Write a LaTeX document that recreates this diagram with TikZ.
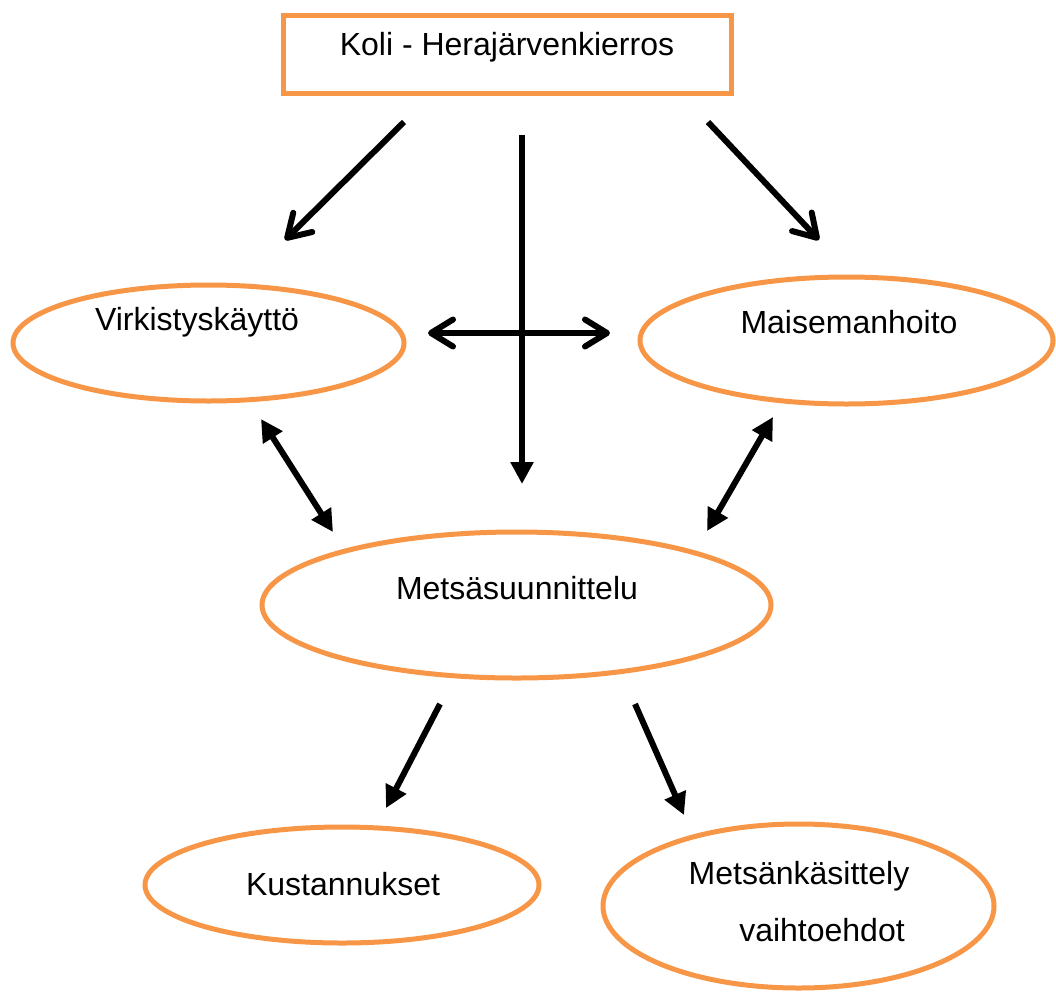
\documentclass[tikz,border=0pt]{standalone}
\usepackage{fontspec}
\setmainfont{Liberation Sans}
\usetikzlibrary{shapes.geometric,arrows.meta}
\definecolor{orng}{HTML}{F79646}
\tikzset{
  box/.style={draw=orng,line width=5pt,minimum width=448pt,minimum height=78pt,inner sep=0pt},
  ell/.style={draw=orng,line width=5pt,ellipse,inner sep=0pt},
  lbl/.style={font=\fontsize{32}{38}\selectfont,inner sep=0pt},
  barb/.style={line width=6pt,-{Straight Barb[length=22pt,width=27pt,line cap=round,round]}},
  dbarb/.style={line width=6pt,{Straight Barb[length=22pt,width=27pt,line cap=round,round]}-{Straight Barb[length=22pt,width=27pt,line cap=round,round]}},
  tri/.style={line width=6pt,-{Triangle[length=22pt,width=22pt]}},
  dtri/.style={line width=6pt,{Triangle[length=22pt,width=22pt]}-{Triangle[length=22pt,width=22pt]}}
}
\begin{document}
\begin{tikzpicture}[x=1pt,y=-1pt]
\useasboundingbox (0,0) rectangle (1056,993);
\node[box] (koli) at (507,54) {};
\node[lbl] (kolit) at (507,47) {Koli - Herajärvenkierros};
\node[ell,minimum width=391pt,minimum height=116pt] (v) at (208.5,343) {};
\node[lbl] (vt) at (197,322) {Virkistyskäyttö};
\node[ell,minimum width=413pt,minimum height=127pt] (m) at (846.5,340.5) {};
\node[lbl] (mt) at (849,322) {Maisemanhoito};
\node[ell,minimum width=509pt,minimum height=146pt] (ms) at (516.5,605) {};
\node[lbl] (mst) at (517,588) {Metsäsuunnittelu};
\node[ell,minimum width=394pt,minimum height=116pt] (k) at (342,885) {};
\node[lbl] (kt) at (343,884) {Kustannukset};
\node[ell,minimum width=391pt,minimum height=164pt] (mk) at (798.5,906) {};
\node[lbl] (mkt1) at (799,876) {Metsänkäsittely};
\node[lbl] (mkt2) at (822,930) {vaihtoehdot};
\coordinate (a1s) at (404,122); \coordinate (a1e) at (285,240);
\coordinate (a2s) at (522,135); \coordinate (a2e) at (522,484);
\coordinate (a3s) at (708,122); \coordinate (a3e) at (819,240);
\coordinate (a4s) at (428,333); \coordinate (a4e) at (610,333);
\coordinate (a5s) at (261,419); \coordinate (a5e) at (333,532);
\coordinate (a6s) at (773,417); \coordinate (a6e) at (707,531);
\coordinate (a7s) at (440,704); \coordinate (a7e) at (386,808);
\coordinate (a8s) at (635,704); \coordinate (a8e) at (684,815);
\draw[barb] (a1s) -- (a1e);
\draw[tri] (a2s) -- (a2e);
\draw[barb] (a3s) -- (a3e);
\draw[dbarb] (a4s) -- (a4e);
\draw[dtri] (a5s) -- (a5e);
\draw[dtri] (a6s) -- (a6e);
\draw[tri] (a7s) -- (a7e);
\draw[tri] (a8s) -- (a8e);
\end{tikzpicture}
\end{document}
